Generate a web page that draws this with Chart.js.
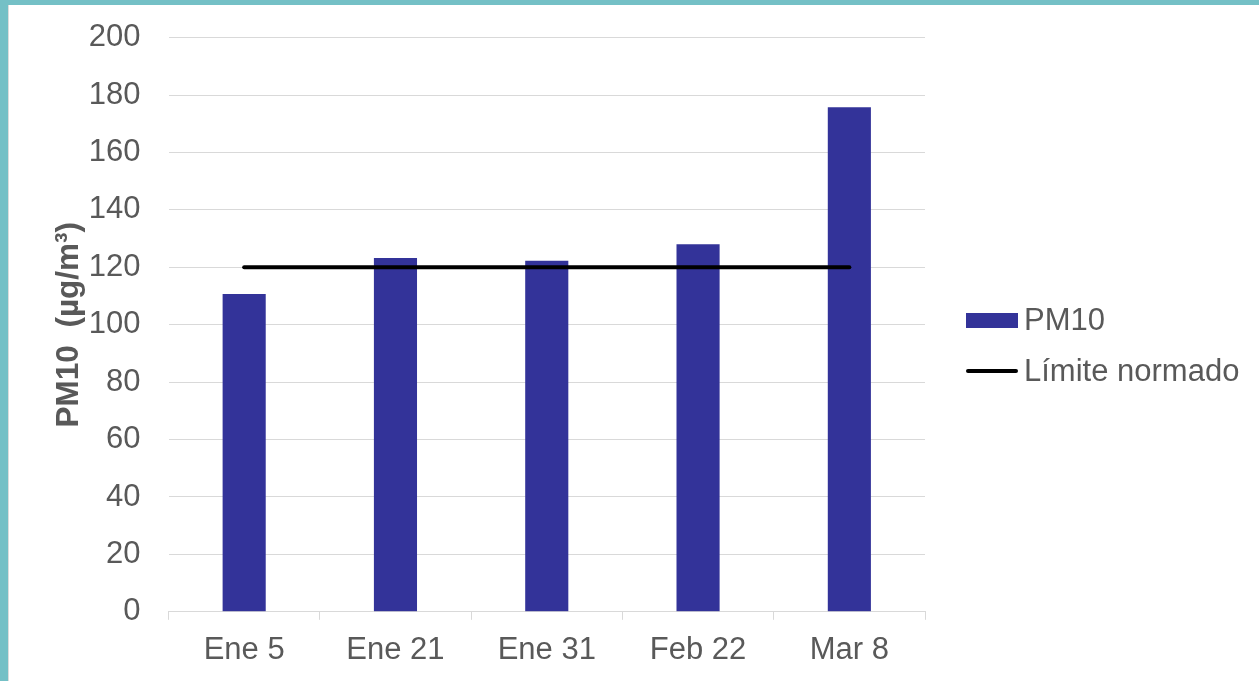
<!DOCTYPE html>
<html>
<head>
<meta charset="utf-8">
<script src="https://cdn.jsdelivr.net/npm/chart.js@4.4.1/dist/chart.umd.min.js"></script>
<style>
  html, body { margin: 0; padding: 0; }
  body { width: 1259px; height: 681px; background: #74c0c6; position: relative; overflow: hidden; font-family: "Liberation Sans", Arial, sans-serif; }
  #wrap { position: absolute; left: 8px; top: 5px; width: 1251px; height: 676px; background: #ffffff; border-left: 1px solid #dcdcdc; box-sizing: border-box; }
  #box { position: absolute; left: 0; top: 0; width: 1250px; height: 676px; }
  .lg { position: absolute; font-size: 31px; line-height: 31px; color: #595959; white-space: nowrap; }
  .sw { position: absolute; }
</style>
</head>
<body>
<div id="wrap">
  <div id="box"><canvas id="c"></canvas></div>
  <div class="sw" style="left:957px; top:308px; width:52px; height:15px; background:#333399;"></div>
  <div class="lg" style="left:1015px; top:299px;">PM10</div>
  <div class="sw" style="left:957px; top:364px; width:52px; height:4px; background:#000; border-radius:2px;"></div>
  <div class="lg" style="left:1015px; top:350px;">Límite normado</div>
</div>
<script>
const categories = ['Ene 5', 'Ene 21', 'Ene 31', 'Feb 22', 'Mar 8'];
const pm10Values = [110.7, 123.2, 122.3, 128.0, 175.7];
const limiteValues = [120, 120, 120, 120, 120];
const yTickMin = 0;
const yTickMax = 200;
const yTickStep = 20;
const yTitle = 'PM10  (µg/m³)';
const seriesNames = ['PM10', 'Límite normado'];

const FONT = '"Liberation Sans", Arial, sans-serif';
const TXT = '#595959';
const GRID = '#d9d9d9';

new Chart(document.getElementById('c'), {
  type: 'bar',
  data: {
    labels: categories,
    datasets: [
      {
        type: 'line',
        label: seriesNames[1],
        data: limiteValues,
        borderColor: '#000000',
        backgroundColor: '#000000',
        borderWidth: 4,
        borderCapStyle: 'round',
        pointRadius: 0,
        pointHoverRadius: 0,
        tension: 0,
        order: 0
      },
      {
        type: 'bar',
        label: seriesNames[0],
        data: pm10Values,
        backgroundColor: '#333399',
        borderWidth: 0,
        categoryPercentage: 1,
        barPercentage: 0.285,
        order: 1
      }
    ]
  },
  options: {
    responsive: true,
    maintainAspectRatio: false,
    animation: false,
    events: [],
    layout: { padding: { left: 20, right: 334, top: 32.6, bottom: 0 } },
    plugins: {
      legend: { display: false },
      tooltip: { enabled: false },
      title: { display: false }
    },
    scales: {
      x: {
        offset: true,
        grid: { display: true, drawOnChartArea: false, drawTicks: true, tickLength: 8, color: GRID, lineWidth: 1, offset: true },
        border: { display: true, color: GRID, width: 1 },
        ticks: { color: TXT, font: { family: FONT, size: 31 }, padding: 12, maxRotation: 0, autoSkip: false }
      },
      y: {
        min: yTickMin,
        max: yTickMax,
        grid: { color: GRID, lineWidth: 1, drawTicks: true, tickLength: 28, tickColor: 'rgba(0,0,0,0)' },
        border: { display: false },
        ticks: { stepSize: yTickStep, color: TXT, font: { family: FONT, size: 31 }, padding: 0 },
        title: { display: true, text: yTitle, color: TXT, font: { family: FONT, size: 31.5, weight: 'bold' }, padding: { top: 21, bottom: 1 } }
      }
    }
  }
});
</script>
</body>
</html>
